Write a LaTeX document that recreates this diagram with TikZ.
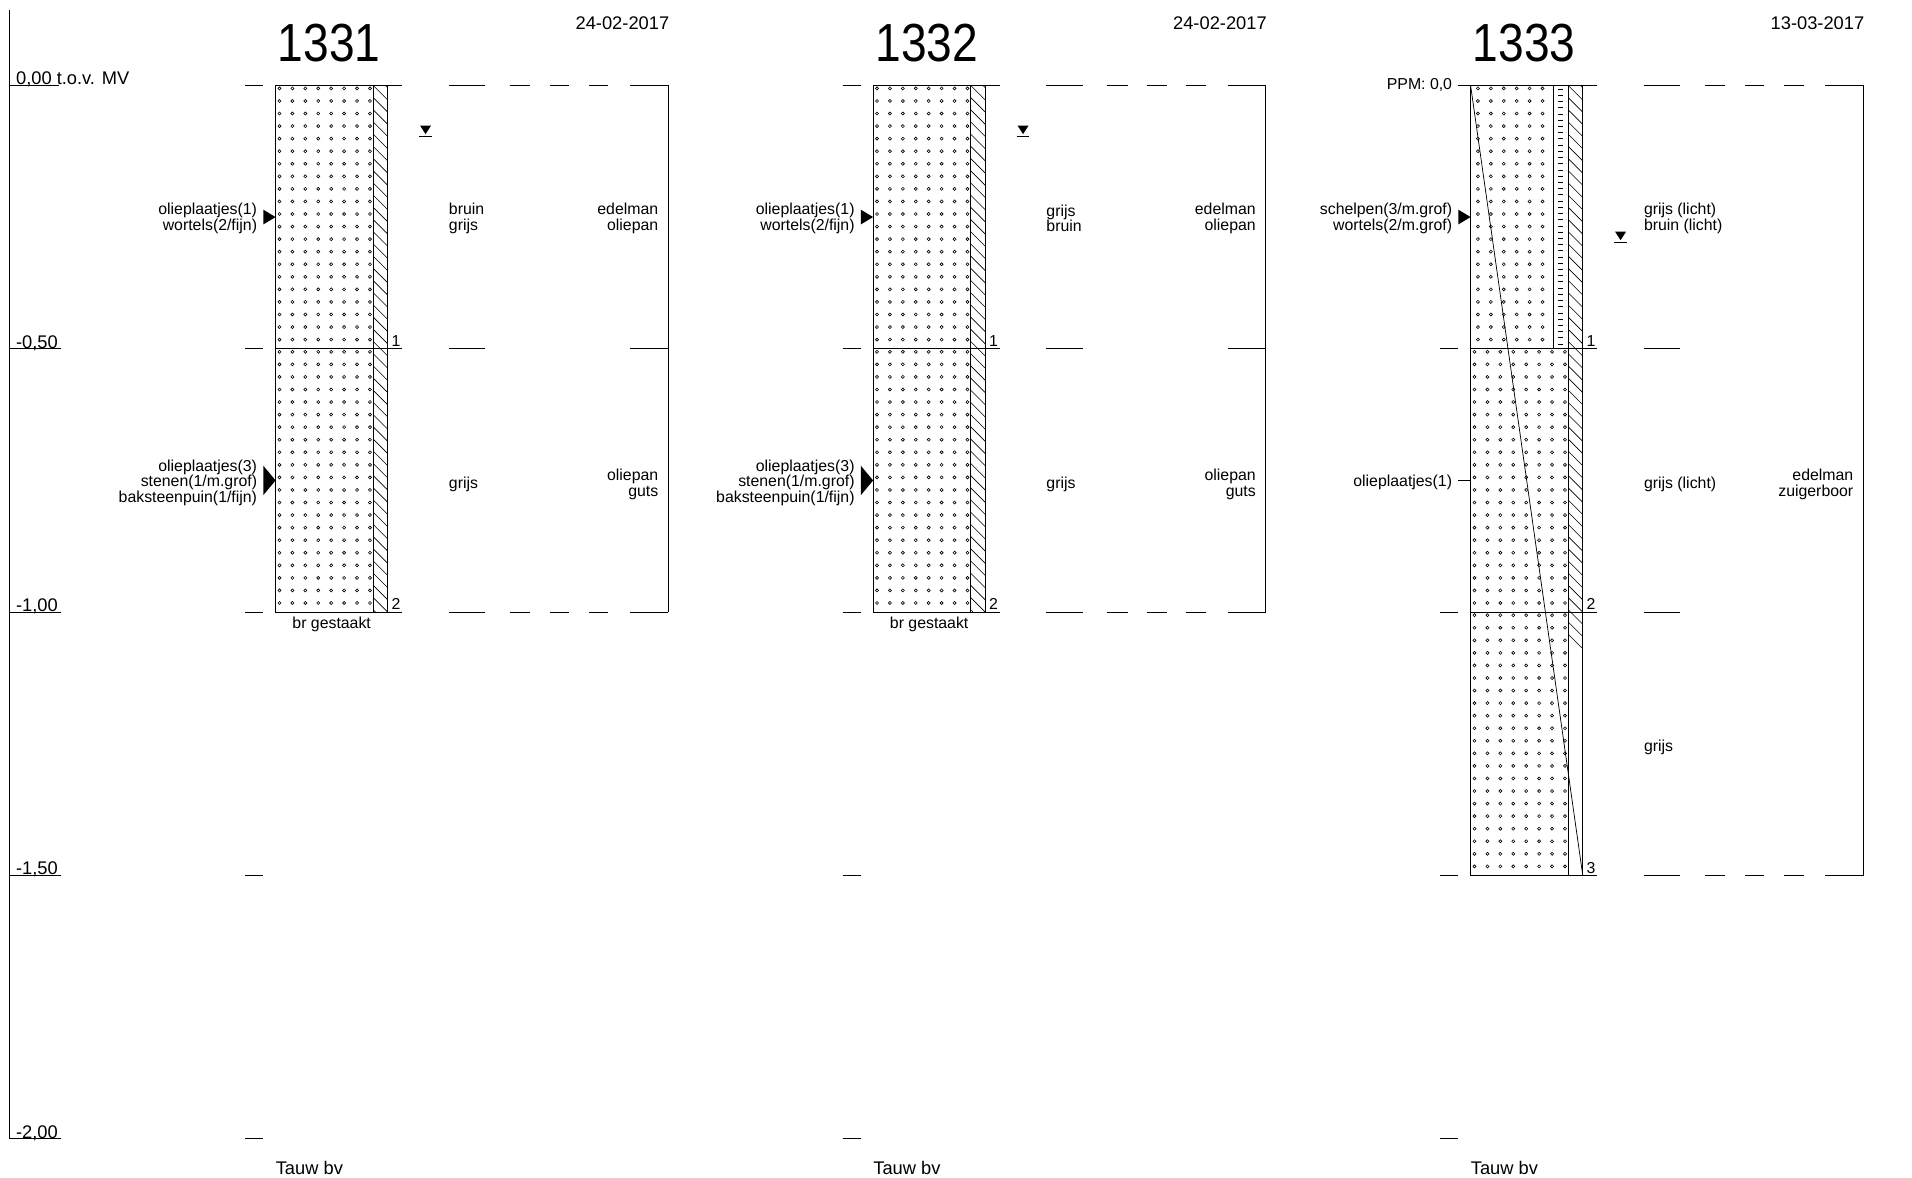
\documentclass[tikz,border=0pt]{standalone}
\usepackage{fontspec}
\setmainfont{Liberation Sans}
\newfontfamily\titlefont[FakeStretch=0.86]{Liberation Sans}
\tikzset{
  ln/.style={line width=0.8pt},
  hl/.style={line width=0.5pt},
  dotc/.style={line width=0.5pt},
  small/.style={font=\fontsize{13}{13}\selectfont, inner sep=0pt},
  mid/.style={font=\fontsize{15}{17}\selectfont, inner sep=0pt},
  ttl/.style={font=\titlefont\fontsize{44}{48}\selectfont, inner sep=0pt},
  gwmark/.style={fill=black},
}
\newcommand\dotgrid[4]{% x0, ncols-1, ytop, rows-1
  \foreach \i in {0,...,#2} \foreach \j in {0,...,#4}
    \draw[dotc] (#1+10.6*\i,#3+2.5+10.3*\j) circle[radius=1.25pt];}
\newcommand\hatchstrip[2]{% ytop, ybot
  \begin{scope}
    \clip (306,#1) rectangle (318,#2);
    \foreach \k in {-2,...,45} \draw[hl] (306,#1+10*\k) -- (318,#1+10*\k+12);
  \end{scope}}
\newcommand\topdash[1]{%
  \foreach \a/\b in {368/398,418/435,451/467,483/499,517/548} \draw[ln] (\a,#1) -- (\b,#1);}
\begin{document}
\begin{tikzpicture}[x=1pt,y=-1pt]
\useasboundingbox (0,0) rectangle (1568,966);
% depth axis
\draw[ln] (8,8) -- (8,934) -- (50,934);
\node[mid,anchor=base west] (lv0) at (13,69) {0,00 t.o.v. MV};
\draw[ln] (8,70) -- (48,70);
\node[mid,anchor=base west] (lv1) at (13,285.5) {-0,50};
\draw[ln] (8,286) -- (50,286);
\node[mid,anchor=base west] (lv2) at (13,501.5) {-1,00};
\draw[ln] (8,502) -- (50,502);
\node[mid,anchor=base west] (lv3) at (13,717.5) {-1,50};
\draw[ln] (8,718) -- (50,718);
\node[mid,anchor=base west] (lv4) at (13,933.5) {-2,00};

% ---------- 1331 ----------
\begin{scope}
\node[ttl] (t1) at (270,35) {1331};
\node[mid,anchor=base east] (d1) at (549,24) {24-02-2017};
\foreach \y in {70,286,502,718,934} \draw[ln] (201,\y) -- (216,\y);
\dotgrid{229.2}{7}{70}{20}
\dotgrid{229.2}{7}{286}{20}
\hatchstrip{70}{502}
\draw[ln] (226,70) rectangle (318,502);
\draw[ln] (306,70) -- (306,502);
\foreach \y in {70,286,502} \draw[ln] (226,\y) -- (330,\y);
\node[small,anchor=base west] (n11) at (321,284) {1};
\node[small,anchor=base west] (n12) at (321,500) {2};
\fill (216,172) -- (226,178) -- (216,184) -- cycle;
\fill (216,382) -- (226,394) -- (216,406) -- cycle;
\node[small,anchor=east,align=right] (a11) at (211,179) {olieplaatjes(1)\\wortels(2/fijn)};
\node[small,anchor=east,align=right] (a12) at (211,396) {olieplaatjes(3)\\stenen(1/m.grof)\\baksteenpuin(1/fijn)};
\node[small,anchor=west,align=left] (c11) at (368,179) {bruin\\grijs};
\node[small,anchor=west] (c12) at (368,397) {grijs};
\node[small,anchor=east,align=right] (m11) at (540,179) {edelman\\oliepan};
\node[small,anchor=east,align=right] (m12) at (540,397) {oliepan\\guts};
\topdash{70}
\topdash{502}
\draw[ln] (368,286) -- (398,286);
\draw[ln] (517,286) -- (548,286);
\draw[ln] (548,70) -- (548,502);
\fill[gwmark] (344.5,103) -- (353.5,103) -- (349,110) -- cycle;
\draw[ln] (344,112) -- (354,112);
\node[small,anchor=north] (b1) at (272,506) {br gestaakt};
\node[mid,anchor=base west] (f1) at (226,963) {Tauw bv};
\end{scope}

% ---------- 1332 ----------
\begin{scope}[xshift=490]
\node[ttl] (t2) at (270,35) {1332};
\node[mid,anchor=base east] (d2) at (549,24) {24-02-2017};
\foreach \y in {70,286,502,718,934} \draw[ln] (201,\y) -- (216,\y);
\dotgrid{229.2}{7}{70}{20}
\dotgrid{229.2}{7}{286}{20}
\hatchstrip{70}{502}
\draw[ln] (226,70) rectangle (318,502);
\draw[ln] (306,70) -- (306,502);
\foreach \y in {70,286,502} \draw[ln] (226,\y) -- (330,\y);
\node[small,anchor=base west] (n21) at (321,284) {1};
\node[small,anchor=base west] (n22) at (321,500) {2};
\fill (216,172) -- (226,178) -- (216,184) -- cycle;
\fill (216,382) -- (226,394) -- (216,406) -- cycle;
\node[small,anchor=east,align=right] (a21) at (211,179) {olieplaatjes(1)\\wortels(2/fijn)};
\node[small,anchor=east,align=right] (a22) at (211,396) {olieplaatjes(3)\\stenen(1/m.grof)\\baksteenpuin(1/fijn)};
\node[small,anchor=west,align=left] (c21) at (368,179) {grijs\\bruin};
\node[small,anchor=west] (c22) at (368,397) {grijs};
\node[small,anchor=east,align=right] (m21) at (540,179) {edelman\\oliepan};
\node[small,anchor=east,align=right] (m22) at (540,397) {oliepan\\guts};
\topdash{70}
\topdash{502}
\draw[ln] (368,286) -- (398,286);
\draw[ln] (517,286) -- (548,286);
\draw[ln] (548,70) -- (548,502);
\fill[gwmark] (344.5,103) -- (353.5,103) -- (349,110) -- cycle;
\draw[ln] (344,112) -- (354,112);
\node[small,anchor=north] (b2) at (272,506) {br gestaakt};
\node[mid,anchor=base west] (f2) at (226,963) {Tauw bv};
\end{scope}

% ---------- 1333 ----------
\begin{scope}[xshift=980]
\node[ttl] (t3) at (270,35) {1333};
\node[mid,anchor=base east] (d3) at (549,24) {13-03-2017};
\foreach \y in {286,502,718,934} \draw[ln] (201,\y) -- (216,\y);
\draw[ln] (216,70) -- (226,70);
\node[small,anchor=east] (p3) at (211,70) {PPM: 0,0};
\dotgrid{232}{5}{70}{20}
\dotgrid{229.2}{7}{286}{20}
\dotgrid{229.2}{7}{502}{20}
\foreach \j in {0,...,41} \draw[hl] (298,73+5.1*\j) -- (302,73+5.1*\j);
\hatchstrip{70}{718}
\draw[ln] (226,70) rectangle (318,718);
\draw[ln] (294,70) -- (294,286);
\draw[ln] (306,70) -- (306,718);
\foreach \y in {70,286,502,718} \draw[ln] (226,\y) -- (330,\y);
\draw[line width=0.6pt] (226,70) -- (318,718);
\node[small,anchor=base west] (n31) at (321,284) {1};
\node[small,anchor=base west] (n32) at (321,500) {2};
\node[small,anchor=base west] (n33) at (321,716) {3};
\fill (216,172) -- (226,178) -- (216,184) -- cycle;
\draw[ln] (216,394) -- (226,394);
\node[small,anchor=east,align=right] (a31) at (211,179) {schelpen(3/m.grof)\\wortels(2/m.grof)};
\node[small,anchor=east] (a32) at (211,396) {olieplaatjes(1)};
\node[small,anchor=west,align=left] (c31) at (368,179) {grijs (licht)\\bruin (licht)};
\node[small,anchor=west] (c32) at (368,397) {grijs (licht)};
\node[small,anchor=west] (c33) at (368,613) {grijs};
\node[small,anchor=east,align=right] (m31) at (540,397) {edelman\\zuigerboor};
\topdash{70}
\topdash{718}
\draw[ln] (368,286) -- (398,286);
\draw[ln] (368,502) -- (398,502);
\draw[ln] (548,70) -- (548,718);
\fill[gwmark] (344.5,190) -- (353.5,190) -- (349,197) -- cycle;
\draw[ln] (344,199) -- (354,199);
\node[mid,anchor=base west] (f3) at (226,963) {Tauw bv};
\end{scope}
\end{tikzpicture}
\end{document}
